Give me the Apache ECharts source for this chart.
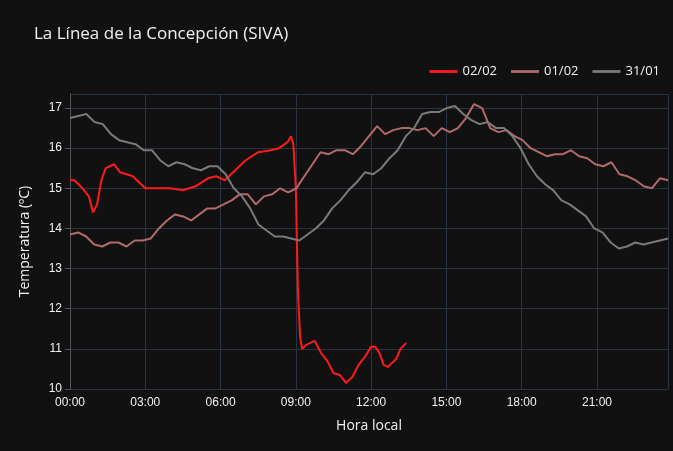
<!DOCTYPE html>
<html><head><meta charset="utf-8">
<script src="https://cdn.jsdelivr.net/npm/echarts@6/dist/echarts.min.js"></script>
<style>html,body{margin:0;background:#111}#c{width:673px;height:451px}</style>
</head><body><div id="c"></div>
<script>
// hours since midnight, temperature
const hours0202 = [0,0.17,0.5,0.75,0.92,1.08,1.25,1.42,1.75,2,2.5,3,3.5,4,4.5,5,5.5,5.83,6.17,6.5,7,7.5,8,8.33,8.67,8.8,8.9,9,9.08,9.17,9.25,9.42,9.75,10,10.25,10.5,10.75,11,11.25,11.5,11.75,12,12.17,12.33,12.5,12.67,12.83,13,13.17,13.4];
const temp0202 = [15.2,15.2,15.0,14.8,14.4,14.6,15.2,15.5,15.6,15.4,15.3,15.0,15.0,15.0,14.95,15.05,15.25,15.3,15.2,15.4,15.7,15.9,15.95,16.0,16.15,16.3,16.1,15.0,12.5,11.3,11.0,11.1,11.2,10.9,10.7,10.4,10.35,10.15,10.3,10.6,10.8,11.05,11.05,10.9,10.6,10.55,10.65,10.75,11.0,11.15];

const temp0102 = [13.85,13.9,13.8,13.6,13.55,13.65,13.65,13.55,13.7,13.7,13.75,14.0,14.2,14.35,14.3,14.2,14.35,14.5,14.5,14.6,14.7,14.85,14.85,14.6,14.8,14.85,15.0,14.9,15.0,15.3,15.6,15.9,15.85,15.95,15.95,15.85,16.05,16.3,16.55,16.35,16.45,16.5,16.5,16.45,16.5,16.3,16.5,16.4,16.5,16.75,17.1,17.0,16.5,16.4,16.45,16.3,16.2,16.0,15.9,15.8,15.85,15.85,15.95,15.8,15.75,15.6,15.55,15.65,15.35,15.3,15.2,15.05,15.0,15.25,15.2];
const temp3101 = [16.75,16.8,16.85,16.65,16.6,16.35,16.2,16.15,16.1,15.95,15.95,15.7,15.55,15.65,15.6,15.5,15.45,15.55,15.55,15.35,15.0,14.8,14.5,14.1,13.95,13.8,13.8,13.75,13.7,13.85,14.0,14.2,14.5,14.7,14.95,15.15,15.4,15.35,15.5,15.75,15.95,16.3,16.5,16.85,16.9,16.9,17.0,17.05,16.85,16.7,16.6,16.65,16.5,16.5,16.3,16.0,15.6,15.3,15.1,14.95,14.7,14.6,14.45,14.3,14.0,13.9,13.65,13.5,13.55,13.65,13.6,13.65,13.7,13.75];

const spread = t => t.map((v, i) => [i * 23.83 / (t.length - 1), v]);
const pair = (h, t) => h.map((x, i) => [x, t[i]]);

const chart = echarts.init(document.getElementById('c'));
chart.setOption({
  backgroundColor: '#111111',
  title: { text: 'La Línea de la Concepción (SIVA)', left: 29, top: 21,
    textStyle: { color: '#f2f2f2', fontSize: 17, fontWeight: 'normal', fontFamily: 'Open Sans' } },
  legend: { right: 8, top: 60, itemWidth: 28, itemGap: 14, icon: 'path://M0,0H10V1H0Z',
    textStyle: { color: '#f2f2f2', fontSize: 13, fontFamily: 'Open Sans' } },
  grid: { left: 70, right: 5, top: 94, bottom: 62 },
  xAxis: { type: 'value', min: 0, max: 23.83, interval: 3,
    name: 'Hora local', nameLocation: 'middle', nameGap: 30,
    nameTextStyle: { color: '#f2f2f2', fontSize: 14, fontFamily: 'Open Sans' },
    axisLine: { show: false }, axisTick: { show: false },
    axisLabel: { color: '#f2f2f2', fontSize: 12, showMaxLabel: false,
      formatter: v => String(v).padStart(2, '0') + ':00' },
    splitLine: { lineStyle: { color: '#283442' } } },
  yAxis: { type: 'value', min: 10, max: 17.35, interval: 1,
    name: 'Temperatura (ºC)', nameLocation: 'middle', nameGap: 38,
    nameTextStyle: { color: '#f2f2f2', fontSize: 14, fontFamily: 'Open Sans' },
    axisLabel: { color: '#f2f2f2', fontSize: 12, showMaxLabel: false },
    splitLine: { lineStyle: { color: '#283442' } } },
  series: [
    { name: '02/02', type: 'line', data: pair(hours0202, temp0202), showSymbol: false, lineStyle: { color: '#ff1a1a', width: 2 }, itemStyle: { color: '#ff1a1a' } },
    { name: '01/02', type: 'line', data: spread(temp0102), showSymbol: false, lineStyle: { color: '#b36a6a', width: 2 }, itemStyle: { color: '#b36a6a' } },
    { name: '31/01', type: 'line', data: spread(temp3101), showSymbol: false, lineStyle: { color: '#7a7a7a', width: 2 }, itemStyle: { color: '#7a7a7a' } }
  ]
});
</script></body></html>
